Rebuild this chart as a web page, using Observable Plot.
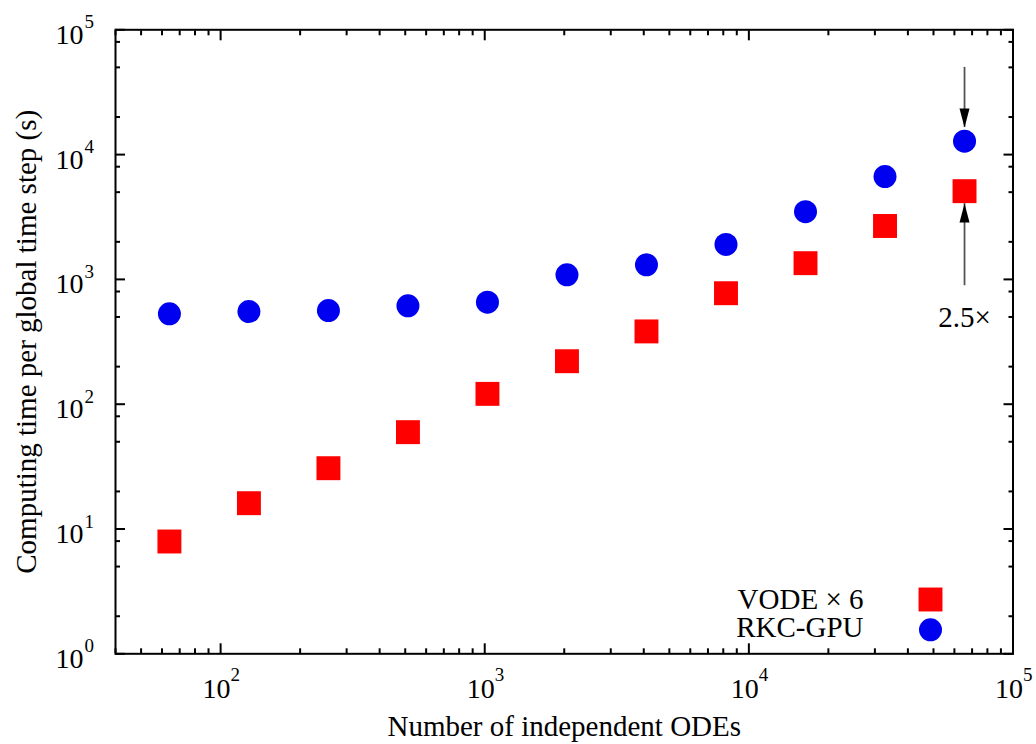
<!DOCTYPE html>
<html>
<head>
<meta charset="utf-8">
<script src="https://cdn.jsdelivr.net/npm/d3@7"></script>
<script src="https://cdn.jsdelivr.net/npm/@observablehq/plot@0.6"></script>
<style>
  html, body { margin: 0; padding: 0; background: #fff; }
  #chart svg { display: block; }
</style>
</head>
<body>
<div id="chart"></div>
<script>
// ---- data ----
const nODEs  = [64, 128, 256, 512, 1024, 2048, 4096, 8192, 16384, 32768, 65536];
const rkcGPU = [530, 553, 563, 614, 657, 1089, 1309, 1905, 3491, 6668, 12800];
const vodeX6 = [7.94, 16.1, 30.7, 59.7, 121, 221, 383, 775, 1349, 2679, 5093];

const seriesNames = ["VODE \u00d7 6", "RKC-GPU"];
const xTitle = "Number of independent ODEs";
const yTitle = "Computing time per global time step (s)";
const ratioLabel = "2.5\u00d7";

const xDecades = [100, 1000, 10000, 100000];
const yDecades = [1, 10, 100, 1000, 10000, 100000];
const xMinorMult = [2, 3, 4, 5, 6, 7, 8, 9];
const yMinorMult = [2, 5, 8];

// arrows at the largest problem size
const arrowDown = {x: 65536, from: 50000, to: 16500};
const arrowUp   = {x: 65536, from: 890, to: 4050};
const ratioAt   = {x: 65536, y: 491};

// ---- derived tables ----
const rows = nODEs.map((n, i) => ({n, rkc: rkcGPU[i], vode: vodeX6[i]}));
const xMinor = [10, 100, 1000, 10000].flatMap(d => xMinorMult.map(m => d * m)).filter(v => v >= 40 && v < 100000);
const yMinor = [1, 10, 100, 1000, 10000].flatMap(d => yMinorMult.map(m => d * m));
const expo = d => String(Math.round(Math.log10(d)));

const RED = "#ff0000", BLUE = "#0000f0";
const font = "'Liberation Serif', 'Times New Roman', serif";

const headUp = {draw(ctx) { ctx.moveTo(0, 0); ctx.lineTo(-5, 19); ctx.lineTo(5, 19); ctx.closePath(); }};

const axisCommon = {stroke: "black", strokeWidth: 2, fill: "none", label: null};

const chart = Plot.plot({
  width: 1036,
  height: 744,
  marginLeft: 115,
  marginRight: 23.5,
  marginTop: 29.3,
  marginBottom: 90.7,
  style: {fontFamily: font, color: "black", background: "white", fontSize: "28px"},
  x: {type: "log", domain: [40, 100000], axis: null},
  y: {type: "log", domain: [1, 100000], axis: null},
  marks: [
    // ticks (inward, mirrored on all four sides)
    Plot.axisX(xDecades, {...axisCommon, anchor: "bottom", tickSize: -10}),
    Plot.axisX(xDecades, {...axisCommon, anchor: "top", tickSize: -10}),
    Plot.axisX(xMinor, {...axisCommon, anchor: "bottom", tickSize: -5}),
    Plot.axisX(xMinor, {...axisCommon, anchor: "top", tickSize: -5}),
    Plot.axisY(yDecades, {...axisCommon, anchor: "left", tickSize: -10}),
    Plot.axisY(yDecades, {...axisCommon, anchor: "right", tickSize: -10}),
    Plot.axisY(yMinor, {...axisCommon, anchor: "left", tickSize: -5}),
    Plot.axisY(yMinor, {...axisCommon, anchor: "right", tickSize: -5}),
    Plot.frame({stroke: "black", strokeWidth: 2}),

    // tick labels 10^k
    Plot.text(xDecades, {x: d => d, frameAnchor: "bottom", lineAnchor: "middle", text: () => "10", textAnchor: "end", dx: 10, dy: 35, fontSize: 28}),
    Plot.text(xDecades, {x: d => d, frameAnchor: "bottom", lineAnchor: "middle", text: expo, textAnchor: "start", dx: 10, dy: 21.6, fontSize: 19}),
    Plot.text(yDecades, {y: d => d, frameAnchor: "left", lineAnchor: "middle", text: () => "10", textAnchor: "end", dx: -32, dy: 5, fontSize: 28}),
    Plot.text(yDecades, {y: d => d, frameAnchor: "left", lineAnchor: "middle", text: expo, textAnchor: "start", dx: -31, dy: -7.4, fontSize: 19}),

    // axis titles
    Plot.text([xTitle], {frameAnchor: "bottom", lineAnchor: "middle", textAnchor: "middle", text: d => d, dy: 73.4, fontSize: 29}),
    Plot.text([yTitle], {frameAnchor: "left", lineAnchor: "middle", textAnchor: "middle", text: d => d, rotate: -90, dx: -88.3, fontSize: 29}),

    // data
    Plot.dot(rows, {x: "n", y: "vode", symbol: "square", r: 13.5, fill: RED, stroke: "none"}),
    Plot.dot(rows, {x: "n", y: "rkc", symbol: "circle", r: 11.5, fill: BLUE, stroke: "none"}),

    // 2.5x annotation
    Plot.ruleX([arrowDown], {x: "x", y1: "from", y2: "to", stroke: "#555", strokeWidth: 1.8}),
    Plot.ruleX([arrowUp], {x: "x", y1: "from", y2: "to", stroke: "#555", strokeWidth: 1.8}),
    Plot.dot([arrowDown], {x: "x", y: "to", symbol: headUp, rotate: 180, fill: "black", stroke: "none"}),
    Plot.dot([arrowUp], {x: "x", y: "to", symbol: headUp, fill: "black", stroke: "none"}),
    Plot.text([ratioAt], {x: "x", y: "y", lineAnchor: "middle", text: () => ratioLabel, fontSize: 29}),

    // legend (bottom-right inside the frame)
    Plot.text([seriesNames[0]], {frameAnchor: "bottom-right", lineAnchor: "middle", text: d => d, textAnchor: "end", dx: -149.5, dy: -53.6, fontSize: 29}),
    Plot.text([seriesNames[1]], {frameAnchor: "bottom-right", lineAnchor: "middle", text: d => d, textAnchor: "end", dx: -149.5, dy: -25.9, fontSize: 29}),
    Plot.dot([seriesNames[0]], {frameAnchor: "bottom-right", symbol: "square", r: 13.5, dx: -82.5, dy: -54.3, fill: RED, stroke: "none"}),
    Plot.dot([seriesNames[1]], {frameAnchor: "bottom-right", symbol: "circle", r: 11.5, dx: -82.5, dy: -24, fill: BLUE, stroke: "none"})
  ]
});

document.getElementById("chart").appendChild(chart);
</script>
</body>
</html>
